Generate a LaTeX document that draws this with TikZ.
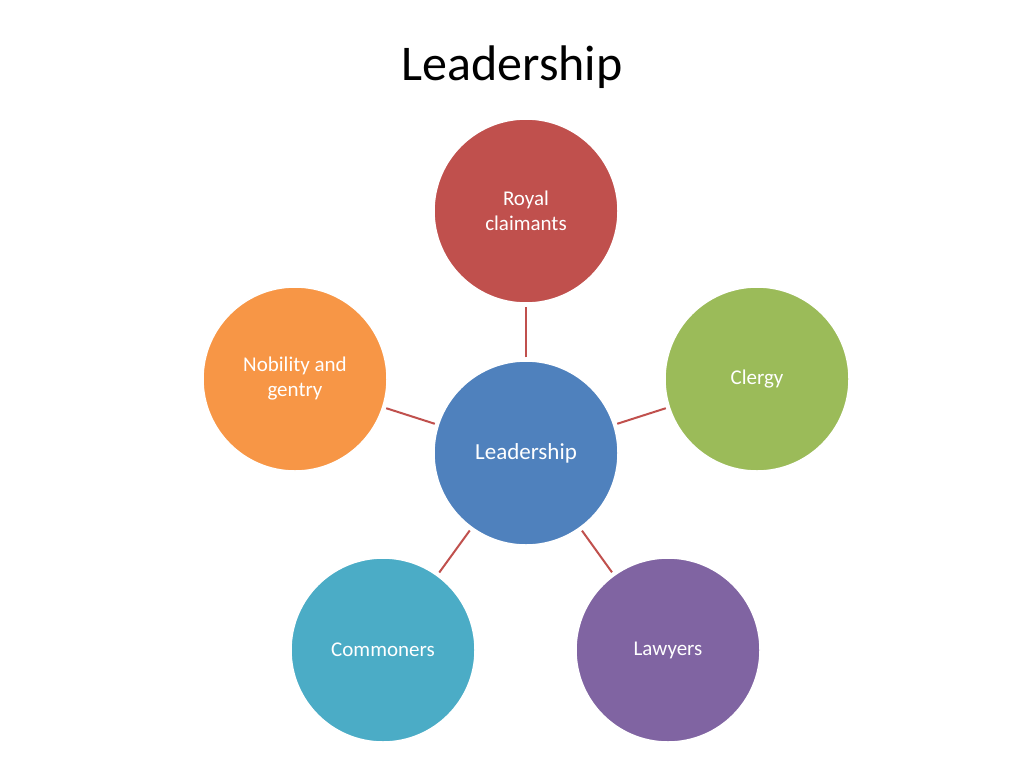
\documentclass[tikz,border=0pt]{standalone}
\usepackage{fontspec}
\setmainfont{Carlito}
\definecolor{cred}{HTML}{C0504D}
\definecolor{cgreen}{HTML}{9BBB59}
\definecolor{cpurple}{HTML}{8064A2}
\definecolor{cteal}{HTML}{4BACC6}
\definecolor{corange}{HTML}{F79646}
\definecolor{cblue}{HTML}{4F81BD}
\begin{document}
\begin{tikzpicture}[x=1pt,y=-1pt,
  bubble/.style={circle,minimum size=184pt,inner sep=0pt,draw=white,line width=1.5pt,text=white,font=\fontsize{21}{25}\selectfont,align=center},
  link/.style={draw=cred,line width=2pt,shorten <=3pt,shorten >=3pt}]
\useasboundingbox (0,0) rectangle (1024,768);
\node[font=\fontsize{50}{60}\selectfont] (title) at (512,67) {Leadership};
\node[bubble,fill=cred] (royal) at (526,211) {Royal\\claimants};
\node[bubble,fill=cgreen] (clergy) at (757,379) {Clergy};
\node[bubble,fill=cpurple] (law) at (668,650) {Lawyers};
\node[bubble,fill=cteal] (comm) at (383,650) {Commoners};
\node[bubble,fill=corange] (nob) at (295,379) {Nobility and\\gentry};
\node[bubble,fill=cblue,font=\fontsize{23}{27}\selectfont] (lead) at (526,453) {Leadership};
\foreach \n in {royal,clergy,law,comm,nob} \draw[link] (lead) -- (\n);
\end{tikzpicture}
\end{document}
